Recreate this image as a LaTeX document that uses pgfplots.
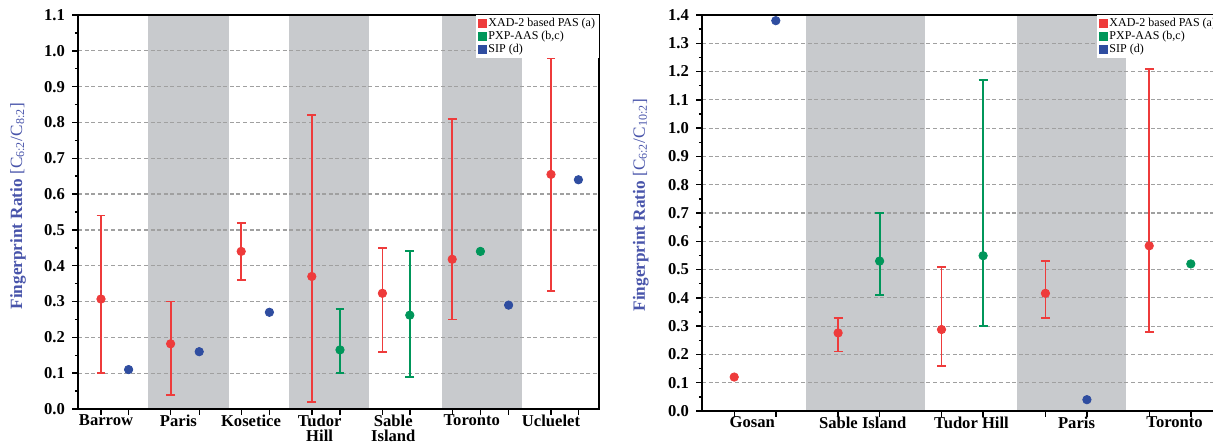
\documentclass[border=0pt]{standalone}
\usepackage{fontspec}
\setmainfont{Liberation Serif}
\usepackage{pgfplots}
\pgfplotsset{compat=1.18}
\definecolor{cred}{RGB}{238,59,59}
\definecolor{cgreen}{RGB}{0,150,90}
\definecolor{cblue}{RGB}{47,77,160}
\definecolor{band}{RGB}{200,202,205}
\definecolor{lblue}{RGB}{72,84,170}
\definecolor{gridc}{RGB}{160,160,160}
\pgfplotsset{
 common/.style={
  scale only axis, set layers,
  axis line style={line width=0.9pt},
  tick align=outside, tick pos=left,
  major tick length=3pt, minor tick length=1.6pt,
  every tick/.style={black, line width=0.7pt},
  ymajorgrids, grid style={gridc, line width=0.6pt, dash pattern=on 2pt off 1.3pt},
  minor y tick num=1,
  ytick distance=0.1,
  yticklabel style={font=\fontsize{8.3}{9}\selectfont\bfseries, /pgf/number format/.cd, fixed, fixed zerofill, precision=1, assume math mode=true},
  xticklabel style={font=\fontsize{8.3}{7.5}\selectfont\bfseries, align=center, inner sep=0pt, yshift=-2.8pt},
  xticklabels={},
  extra x tick style={major tick length=0pt},
  legend style={at={(1,1)}, anchor=north east, draw=none, fill=white, font=\fontsize{6}{6.6}\selectfont, inner xsep=1pt, inner ysep=0.5pt, row sep=-0.8pt, nodes={inner sep=0.8pt}},
  legend cell align=left,
  ylabel style={lblue, font=\fontsize{8.6}{9}\selectfont, anchor=center},
 },
 errp/.style={forget plot, only marks, mark=*, mark size=2.1pt, draw=#1, fill=#1, mark options={solid, fill=#1, draw=#1}, error bars/.cd, y dir=both, y explicit, error bar style={solid, line width=0.9pt, draw=#1}, error mark options={rotate=90, mark size=2.2pt, line width=0.9pt, draw=#1}},
 ptp/.style={forget plot, only marks, mark=*, mark size=2.1pt, draw=#1, fill=#1, mark options={fill=#1, draw=#1}},
 bandp/.style={forget plot, fill=band, draw=none, on layer=axis background},
}
\begin{document}
\begin{tikzpicture}
% ---------------- left panel ----------------
\begin{axis}[common, at={(39pt,17pt)}, anchor=south west, width=260.5pt, height=197pt,
  xmin=78, xmax=599, ymin=0, ymax=1.1,
  xtick={101,128.6,170.6,199.2,241.2,269.4,311.8,340,382.4,409.8,452.2,480.4,508.6,551,578.4},
  extra x ticks={106,178.4,251,319.6,393.3,471.8,551},
  extra x tick labels={Barrow,Paris,Kosetice,{Tudor\\Hill},{Sable\\Island},Toronto,Ucluelet},
  ylabel={\textbf{Fingerprint Ratio} [C\textsubscript{6:2}/C\textsubscript{8:2}]},
  ylabel style={at={(axis description cs:-0.115,0.515)}},
]
\addplot[bandp] coordinates {(148.2,1.1) (228.6,1.1)} \closedcycle;
\addplot[bandp] coordinates {(289.4,1.1) (369.4,1.1)} \closedcycle;
\addplot[bandp] coordinates {(441.6,1.1) (521.6,1.1)} \closedcycle;
\addplot[errp=cred] table[x=x, y=y, y error plus expr=\thisrow{hi}-\thisrow{y}, y error minus expr=\thisrow{y}-\thisrow{lo}] {
x y lo hi
101 0.307 0.10 0.54
170.6 0.182 0.04 0.30
241.2 0.44 0.36 0.52
311.8 0.37 0.02 0.82
382.4 0.323 0.16 0.45
452.2 0.418 0.25 0.81
551 0.655 0.33 0.98
};
\addplot[errp=cgreen] table[x=x, y=y, y error plus expr=\thisrow{hi}-\thisrow{y}, y error minus expr=\thisrow{y}-\thisrow{lo}] {
x y lo hi
340 0.165 0.10 0.28
409.8 0.262 0.09 0.44
};
\addplot[ptp=cgreen] coordinates {(480.4,0.44)};
\addplot[ptp=cblue] coordinates {(128.6,0.11) (199.2,0.16) (269.4,0.27) (508.6,0.29) (578.4,0.64)};
\addlegendimage{legend image code/.code={\fill[cred] (0pt,-1.8pt) rectangle (4.2pt,1.9pt);}}
\addlegendentry{XAD-2 based PAS (a)}
\addlegendimage{legend image code/.code={\fill[cgreen] (0pt,-1.8pt) rectangle (4.2pt,1.9pt);}}
\addlegendentry{PXP-AAS (b,c)}
\addlegendimage{legend image code/.code={\fill[cblue] (0pt,-1.8pt) rectangle (4.2pt,1.9pt);}}
\addlegendentry{SIP (d)}
\end{axis}
% ---------------- right panel ----------------
\begin{axis}[common, at={(351pt,16pt)}, anchor=south west, width=259pt, height=198pt,
  xmin=702, xmax=1220, ymin=0, ymax=1.4,
  xtick={734.2,775.8,838.1,879.6,941.5,983.1,1045.4,1086.9,1149.2,1190.8},
  extra x ticks={752.3,862.7,971.5,1076.5,1174.6},
  extra x tick labels={Gosan,Sable Island,Tudor Hill,Paris,Toronto},
  ylabel={\textbf{Fingerprint Ratio} [C\textsubscript{6:2}/C\textsubscript{10:2}]},
  ylabel style={at={(axis description cs:-0.118,0.52)}},
]
\addplot[bandp] coordinates {(806.2,1.4) (925.4,1.4)} \closedcycle;
\addplot[bandp] coordinates {(1016.5,1.4) (1126.2,1.4)} \closedcycle;
\addplot[errp=cred] table[x=x, y=y, y error plus expr=\thisrow{hi}-\thisrow{y}, y error minus expr=\thisrow{y}-\thisrow{lo}] {
x y lo hi
838.1 0.276 0.21 0.33
941.5 0.288 0.16 0.51
1045.4 0.416 0.33 0.53
1149.2 0.584 0.28 1.21
};
\addplot[ptp=cred] coordinates {(734.2,0.12)};
\addplot[errp=cgreen] table[x=x, y=y, y error plus expr=\thisrow{hi}-\thisrow{y}, y error minus expr=\thisrow{y}-\thisrow{lo}] {
x y lo hi
879.6 0.53 0.41 0.70
983.1 0.549 0.30 1.17
};
\addplot[ptp=cgreen] coordinates {(1190.8,0.52)};
\addplot[ptp=cblue] coordinates {(775.8,1.38) (1086.9,0.04)};
\addlegendimage{legend image code/.code={\fill[cred] (0pt,-1.8pt) rectangle (4.2pt,1.9pt);}}
\addlegendentry{XAD-2 based PAS (a)}
\addlegendimage{legend image code/.code={\fill[cgreen] (0pt,-1.8pt) rectangle (4.2pt,1.9pt);}}
\addlegendentry{PXP-AAS (b,c)}
\addlegendimage{legend image code/.code={\fill[cblue] (0pt,-1.8pt) rectangle (4.2pt,1.9pt);}}
\addlegendentry{SIP (d)}
\end{axis}
\pgfresetboundingbox
\path[use as bounding box] (0,0) rectangle (606.5pt,221.5pt);
\end{tikzpicture}
\end{document}
